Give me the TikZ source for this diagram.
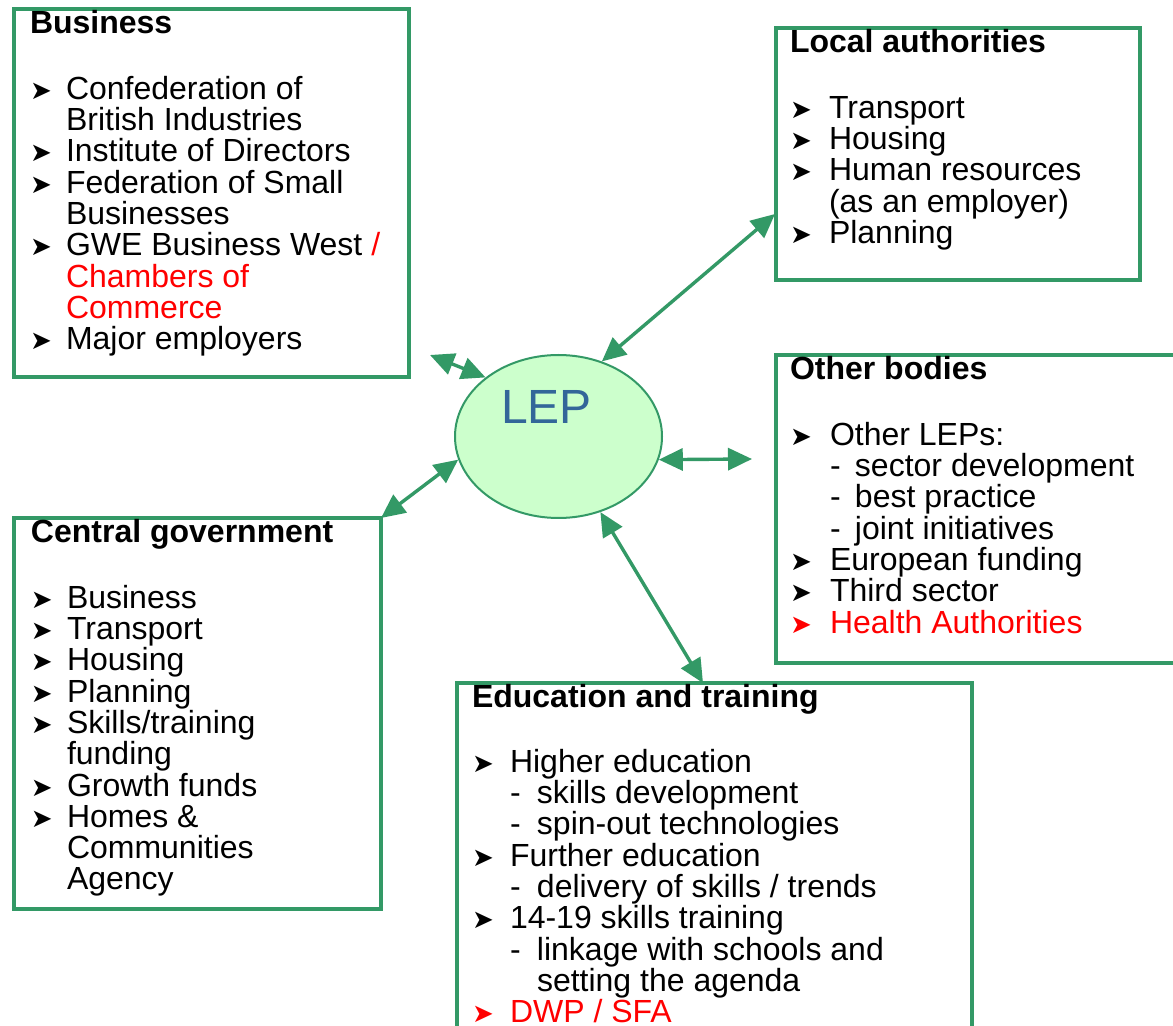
\documentclass[tikz,border=0pt]{standalone}
\usepackage{fontspec}
\setmainfont{Liberation Sans}
\newfontfamily\djv{DejaVu Sans}
\usetikzlibrary{shapes.geometric,arrows.meta}
\definecolor{lepgreen}{RGB}{51,153,102}
\definecolor{lepfill}{RGB}{204,255,204}
\definecolor{lepblue}{RGB}{51,102,153}
\newlength\bulw
\newlength\subw
\newcommand\bul{\makebox[\bulw][l]{{\djv\fontsize{13}{13}\selectfont ➤}}}
\newcommand\contl{\hspace*{\bulw}}
\newcommand\subl[1]{\hspace*{\bulw}\makebox[\subw][l]{-}#1}
\newcommand\boxtext[4]{\parbox[t]{#1}{\raggedright\setlength\bulw{#2}\setlength\subw{#3}\fontsize{16}{15.65}\selectfont\lineskiplimit=-100pt\relax #4}}
\begin{document}
\begin{tikzpicture}[x=0.5pt,y=-0.5pt,
  box/.style={draw=lepgreen,line width=1.6pt,anchor=north west,inner sep=0pt,outer sep=0pt},
  txt/.style={anchor=base west,inner sep=0pt,outer sep=0pt},
  link/.style={draw=lepgreen,line width=1.7pt,{Triangle[length=12pt,width=11pt]}-{Triangle[length=12pt,width=11pt]}}]
\useasboundingbox (0,0) rectangle (1173,1026);
\clip (0,0) rectangle (1173,1026);
\fill[white] (0,0) rectangle (1173,1026);
% boxes
\node[box,minimum width=197.5pt,minimum height=184pt] (business) at (14,9) {};
\node[box,minimum width=182pt,minimum height=126pt] (local) at (776,28) {};
\node[box,minimum width=204.5pt,minimum height=154pt] (other) at (776,355) {};
\node[box,minimum width=183.5pt,minimum height=195.5pt] (central) at (14,518) {};
\node[box,minimum width=257.5pt,minimum height=178.5pt] (edu) at (457,683) {};
% texts
\node[txt] (bustxt) at (30,34) {\boxtext{200pt}{18pt}{13pt}{%
\textbf{Business}\\[17pt]
\bul Confederation of\\
\contl British Industries\\
\bul Institute of Directors\\
\bul Federation of Small\\
\contl Businesses\\
\bul GWE Business West \textcolor{red}{/}\\
\contl\textcolor{red}{Chambers of}\\
\contl\textcolor{red}{Commerce}\\
\bul Major employers}};
\node[txt] (loctxt) at (790,53) {\boxtext{180pt}{19.5pt}{13pt}{%
\textbf{Local authorities}\\[17pt]
\bul Transport\\
\bul Housing\\
\bul Human resources\\
\contl (as an employer)\\
\bul Planning}};
\node[txt] (othtxt) at (790,380) {\boxtext{200pt}{20pt}{12.5pt}{%
\textbf{Other bodies}\\[17pt]
\bul Other LEPs:\\
\subl{sector development}\\
\subl{best practice}\\
\subl{joint initiatives}\\
\bul European funding\\
\bul Third sector\\
{\color{red}\bul Health Authorities}}};
\node[txt] (cgtxt) at (31,543) {\boxtext{180pt}{18pt}{13pt}{%
\textbf{Central government}\\[17pt]
\bul Business\\
\bul Transport\\
\bul Housing\\
\bul Planning\\
\bul Skills/training\\
\contl funding\\
\bul Growth funds\\
\bul Homes \&\\
\contl Communities\\
\contl Agency}};
\node[txt] (edutxt) at (472,707) {\boxtext{250pt}{19pt}{13.5pt}{%
\textbf{Education and training}\\[17pt]
\bul Higher education\\
\subl{skills development}\\
\subl{spin-out technologies}\\
\bul Further education\\
\subl{delivery of skills / trends}\\
\bul 14-19 skills training\\
\subl{linkage with schools and}\\
\contl\hspace*{\subw}setting the agenda\\
{\color{red}\bul DWP / SFA}}};
% LEP
\node[ellipse,draw=lepgreen,fill=lepfill,line width=1pt,minimum width=103.5pt,minimum height=81.5pt,inner sep=0pt] (lep) at (558.5,436.5) {};
\node[anchor=base,inner sep=0pt,text=lepblue,font=\fontsize{24}{24}\selectfont] (leptxt) at (546.5,424) {LEP};
% connectors
\coordinate (laend) at (775,214);
\coordinate (bizend) at (430,355);
\coordinate (obend) at (752,459);
\coordinate (edend) at (703,683);
\draw[link] (lep.60) -- (laend);
\draw[link] (bizend) -- (lep.141);
\draw[link] (lep.-13) -- (obend);
\draw[link] (lep.193) -- (central.north east);
\draw[link] (lep.-61) -- (edend);
\end{tikzpicture}
\end{document}
